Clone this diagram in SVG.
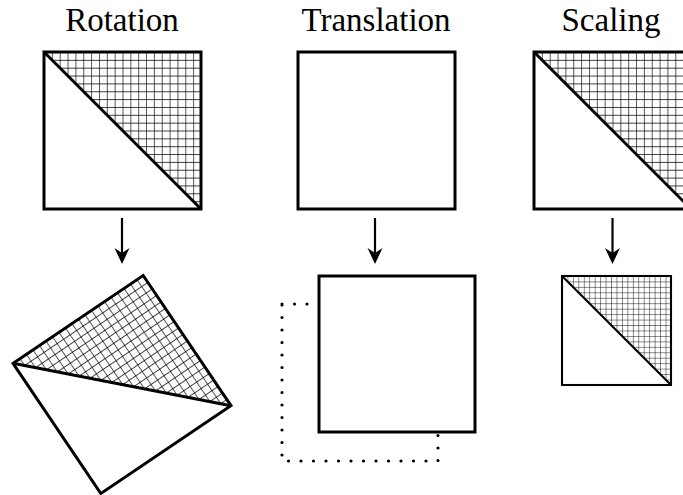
<svg xmlns="http://www.w3.org/2000/svg" width="683" height="495" viewBox="0 0 683 495">
<style>
.t{font-family:"Liberation Serif","Times New Roman",serif;font-size:33px;fill:#000;text-anchor:middle}
.o{fill:none;stroke:#000;stroke-width:3;stroke-linejoin:miter}
.ow{fill:#fff;stroke:#000;stroke-width:3}
.h{fill:url(#grid);stroke:none}
.c{stroke:#000;stroke-width:2.2;fill:none}
.dot{fill:none;stroke:#000;stroke-width:3.2;stroke-linecap:round;stroke-dasharray:0 12.5}
</style>
<defs>
<pattern id="grid" patternUnits="userSpaceOnUse" width="7.85" height="7.85">
<path d="M0 0H7.85M0 0V7.85" stroke="#000" stroke-width="1.3" fill="none"/>
</pattern>
<path id="ah" d="M-7.5 -16 L0 0 L7.5 -16 L0 -11 Z" fill="#000"/>
</defs>
<rect width="683" height="495" fill="#fff"/>
<g id="labels">
<text class="t" x="122" y="31">Rotation</text>
<text class="t" x="376" y="31">Translation</text>
<text class="t" x="611" y="31">Scaling</text>
</g>
<g id="rot-orig" transform="translate(44,52)">
<path class="h" d="M0 0H157V157Z"/>
<rect class="o" x="0" y="0" width="157" height="157"/>
<path class="o" d="M0 0L157 157"/>
</g>
<g id="rot-result" transform="translate(122,384.5) rotate(-34) translate(-78.5,-78.5)">
<path class="h" d="M0 0H157V157Z"/>
<rect class="o" x="0" y="0" width="157" height="157"/>
<path class="o" d="M0 0L157 157"/>
</g>
<g id="trans-orig">
<rect class="o" x="298" y="52" width="157" height="157"/>
</g>
<g id="trans-result">
<rect class="dot" x="282" y="304" width="156" height="157"/>
<rect class="ow" x="319" y="276" width="156" height="156"/>
</g>
<g id="scale-orig" transform="translate(534,52)">
<path class="h" d="M0 0H157V157Z"/>
<rect class="o" x="0" y="0" width="157" height="157"/>
<path class="o" d="M0 0L157 157"/>
</g>
<g id="scale-result" transform="translate(562,276) scale(0.6943)">
<path class="h" d="M0 0H157V157Z"/>
<rect class="o" x="0" y="0" width="157" height="157" stroke-width="4.3"/>
<path class="o" d="M0 0L157 157" stroke-width="4.3"/>
</g>
<g id="connectors">
<path class="c" d="M122 218V253"/>
<use href="#ah" x="122" y="264"/>
<path class="c" d="M375 218V253"/>
<use href="#ah" x="375" y="264"/>
<path class="c" d="M612.5 218V253"/>
<use href="#ah" x="612.5" y="264"/>
</g>
</svg>
